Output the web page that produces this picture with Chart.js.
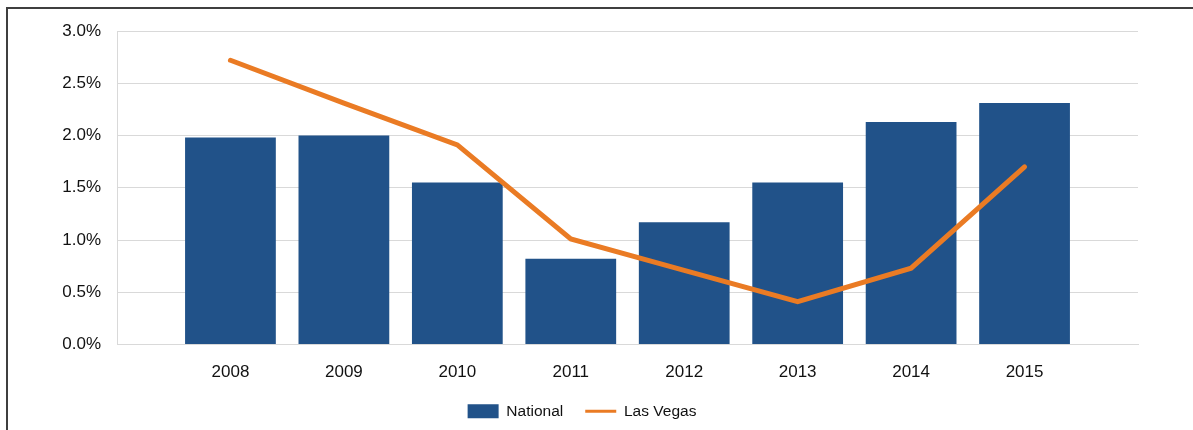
<!DOCTYPE html>
<html>
<head>
<meta charset="utf-8">
<script src="https://cdn.jsdelivr.net/npm/chart.js@4/dist/chart.umd.min.js"></script>
<style>
  html, body { margin: 0; padding: 0; background: #fff; overflow: hidden; }
  #frame { position: absolute; left: 6px; top: 7px; width: 1300px; height: 600px; border: 2px solid #3f3f3f; }
  #wrap { position: absolute; left: 0; top: 0; width: 1193px; height: 430px; }
</style>
</head>
<body>
<div id="frame"></div>
<div id="wrap"><canvas id="myChart" width="1193" height="430"></canvas></div>
<script>
// years on the x axis
var years = ['2008', '2009', '2010', '2011', '2012', '2013', '2014', '2015'];
// growth rates in percent
var national = [1.98, 2.00, 1.55, 0.82, 1.17, 1.55, 2.13, 2.31];
var lasVegas = [2.72, 2.31, 1.91, 1.01, 0.71, 0.41, 0.73, 1.70];
// y axis ticks
var yMin = 0, yMax = 3, yStep = 0.5;

var FONT = 'Liberation Sans, Arial, sans-serif';

// x is a linear index so the plot area keeps half a slot of space on each side
function points(arr) {
  return arr.map(function (v, i) { return { x: i, y: v }; });
}

// nudge the legend a bit right, like the original
var legendShift = {
  id: 'legendShift',
  afterLayout: function (chart) {
    chart.legend.left += 13;
    chart.legend.right += 13;
  }
};

var ctx = document.getElementById('myChart').getContext('2d');
var myChart = new Chart(ctx, {
  type: 'bar',
  data: {
    datasets: [{
      label: 'National',
      data: points(national),
      backgroundColor: '#215289',
      borderWidth: 0,
      barPercentage: 0.8,
      categoryPercentage: 1,
      order: 2
    }, {
      type: 'line',
      label: 'Las Vegas',
      data: points(lasVegas),
      borderColor: '#ea7b24',
      backgroundColor: '#ea7b24',
      borderWidth: 5,
      borderCapStyle: 'round',
      borderJoinStyle: 'miter',
      pointRadius: 0,
      pointStyle: 'line',
      tension: 0,
      fill: false,
      order: 1
    }]
  },
  plugins: [legendShift],
  options: {
    responsive: false,
    animation: false,
    layout: { padding: { left: 0, right: 55, top: 31, bottom: 1 } },
    scales: {
      x: {
        type: 'linear',
        offset: false,
        min: -1,
        max: years.length,
        afterBuildTicks: function (scale) {
          scale.ticks = years.map(function (y, i) { return { value: i }; });
        },
        afterFit: function (scale) { scale.height = 37; },
        grid: { display: false },
        border: { display: true, color: '#d9d9d9' },
        ticks: {
          color: '#111',
          font: { family: FONT, size: 17 },
          padding: 10,
          maxRotation: 0,
          autoSkip: false,
          callback: function (v) { return years[v] || ''; }
        }
      },
      y: {
        min: yMin,
        max: yMax,
        afterFit: function (scale) { scale.width = 117; },
        grid: { color: '#d9d9d9', drawTicks: false },
        border: { display: true, color: '#d9d9d9' },
        ticks: {
          stepSize: yStep,
          padding: 16,
          color: '#111',
          font: { family: FONT, size: 17 },
          callback: function (v) { return v.toFixed(1) + '%'; }
        }
      }
    },
    plugins: {
      tooltip: { enabled: false },
      legend: {
        position: 'bottom',
        labels: {
          usePointStyle: true,
          pointStyleWidth: 31,
          boxHeight: 14,
          padding: 22,
          color: '#111',
          font: { family: FONT, size: 15.5 },
          sort: function (a, b) { return a.datasetIndex - b.datasetIndex; },
          generateLabels: function (chart) {
            var items = Chart.defaults.plugins.legend.labels.generateLabels(chart);
            items.forEach(function (it) {
              if (it.datasetIndex === 0) { it.pointStyle = 'rect'; it.lineWidth = 0; }
              else { it.pointStyle = 'line'; it.lineWidth = 3; }
            });
            return items;
          }
        }
      }
    }
  }
});
</script>
</body>
</html>
